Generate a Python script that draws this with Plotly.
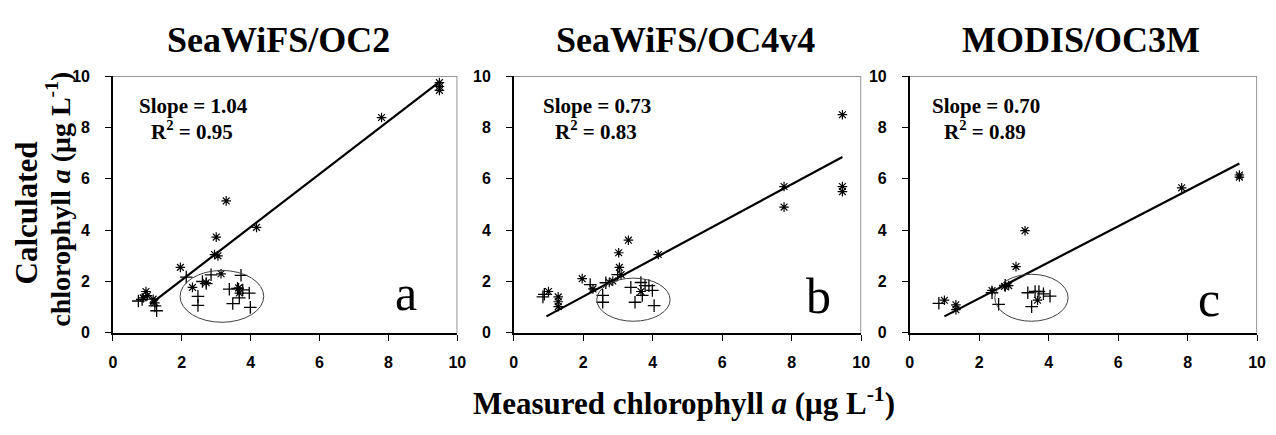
import plotly.graph_objects as go

W, H = 1276, 435

# ---------------- data ----------------
titles = ["SeaWiFS/OC2", "SeaWiFS/OC4v4", "MODIS/OC3M"]
slopes = ["1.04", "0.73", "0.70"]
r2s = ["0.95", "0.83", "0.89"]
letters = ["a", "b", "c"]
tick_vals = [0, 2, 4, 6, 8, 10]

p1_star_x = [0.88, 0.96, 1.0, 1.17, 1.22, 1.96, 2.31, 2.71, 2.95, 3.05, 3.0, 3.14, 3.29, 3.67, 3.65, 4.17, 7.8, 9.48, 9.48, 9.48]
p1_star_y = [1.36, 1.61, 1.45, 1.31, 1.17, 2.55, 1.77, 1.95, 3.05, 3.0, 3.73, 2.3, 5.14, 1.55, 1.75, 4.11, 8.39, 9.75, 9.6, 9.45]
p1_plus_x = [0.74, 0.85, 1.27, 1.22, 2.13, 2.71, 2.85, 2.47, 2.47, 3.38, 3.48, 3.62, 3.77, 3.96, 3.67, 3.72, 3.99, 2.6]
p1_plus_y = [1.24, 1.3, 0.86, 1.05, 2.17, 1.92, 2.26, 1.42, 1.07, 1.70, 1.14, 1.73, 1.67, 1.55, 1.36, 2.24, 0.99, 2.0]
p1_line_x = [1.08, 9.5]
p1_line_y = [1.11, 9.8]

p2_star_x = [1.0, 1.28, 1.28, 1.28, 1.97, 2.28, 2.75, 2.85, 3.02, 3.04, 3.09, 3.30, 3.66, 4.16, 7.78, 7.78, 9.46, 9.46, 9.46]
p2_star_y = [1.61, 1.40, 1.21, 1.02, 2.11, 1.71, 1.96, 2.02, 3.12, 2.55, 2.27, 3.61, 1.61, 3.05, 5.7, 4.9, 8.5, 5.7, 5.5]
p2_plus_x = [0.84, 0.88, 2.2, 2.56, 2.56, 2.99, 3.37, 3.66, 3.78, 3.89, 3.99, 3.49, 4.04, 3.7, 2.65]
p2_plus_y = [1.4, 1.5, 1.88, 1.46, 1.19, 2.27, 1.77, 1.96, 1.84, 1.84, 1.65, 1.19, 1.06, 1.46, 1.95]
p2_line_x = [0.94, 9.46]
p2_line_y = [0.64, 6.85]

p3_star_x = [1.0, 1.33, 1.33, 2.37, 2.73, 2.85, 3.06, 3.32, 3.68, 7.83, 9.49, 9.49]
p3_star_y = [1.27, 1.09, 0.9, 1.65, 1.81, 1.84, 2.58, 3.98, 1.27, 5.65, 6.07, 6.15]
p3_plus_x = [0.84, 2.37, 2.56, 3.4, 3.61, 3.72, 3.85, 4.04, 3.51, 2.75]
p3_plus_y = [1.15, 1.56, 1.11, 1.56, 1.61, 1.61, 1.52, 1.43, 1.02, 1.85]
p3_line_x = [1.0, 9.49]
p3_line_y = [0.64, 6.6]

# ellipse bounds (x0, x1, y0, y1) in data units
ellipses = [(1.95, 4.38, 0.41, 2.43), (2.39, 4.5, 0.45, 2.13), (2.45, 4.56, 0.45, 2.28)]

panels = [
    (p1_star_x, p1_star_y, p1_plus_x, p1_plus_y, p1_line_x, p1_line_y),
    (p2_star_x, p2_star_y, p2_plus_x, p2_plus_y, p2_line_x, p2_line_y),
    (p3_star_x, p3_star_y, p3_plus_x, p3_plus_y, p3_line_x, p3_line_y),
]

# ---------------- layout (pixels) ----------------
x_px = [(110, 458), (515, 866), (915, 1266)]
y_top, y_bot = 71, 338
ydom = [1 - y_bot / H, 1 - y_top / H]

SERIF = "Liberation Serif, Times New Roman, serif"
SANS = "Liberation Sans, Arial, sans-serif"
TICKFONT = dict(family=SANS, size=16, color="black", weight="bold")


def ann(text, px, py, size, angle=0, family=SERIF):
    return dict(text=text, xref="paper", yref="paper", x=px / W, y=1 - py / H,
                xanchor="center", yanchor="middle", showarrow=False, textangle=angle,
                font=dict(family=family, size=size, color="black"))


fig = go.Figure()
layout = dict(
    width=W, height=H,
    margin=dict(l=0, r=0, t=0, b=0),
    paper_bgcolor="white", plot_bgcolor="white",
    showlegend=False,
    shapes=[], annotations=[],
)

for i, (sx, sy, px, py, lx, ly) in enumerate(panels):
    n = "" if i == 0 else str(i + 1)
    xa, ya = "x" + n, "y" + n
    fig.add_trace(go.Scatter(x=lx, y=ly, mode="lines", xaxis=xa, yaxis=ya,
                             line=dict(color="black", width=2.2)))
    fig.add_trace(go.Scatter(x=sx, y=sy, mode="markers", xaxis=xa, yaxis=ya,
                             marker=dict(symbol="asterisk-open", size=8, color="black",
                                         line=dict(color="black", width=1.2))))
    fig.add_trace(go.Scatter(x=px, y=py, mode="markers", xaxis=xa, yaxis=ya,
                             marker=dict(symbol="cross-thin-open", size=9, color="black",
                                         line=dict(color="black", width=1.3))))
    x0, x1 = x_px[i]
    common = dict(range=[0, 10], tickvals=tick_vals, ticks="outside", ticklen=6,
                  tickwidth=1, tickcolor="black", showgrid=False, zeroline=False,
                  showline=True, linecolor="black", linewidth=1.5)
    layout["xaxis" + n] = dict(common, domain=[x0 / W, x1 / W], anchor=ya, ticklabelstandoff=8)
    layout["yaxis" + n] = dict(common, domain=ydom, anchor=xa, ticklabelstandoff=12)
    # top and right frame
    layout["shapes"].append(dict(type="line", xref=xa, yref=ya, x0=0, x1=10, y0=10, y1=10,
                                 line=dict(color="#707070", width=1.5)))
    layout["shapes"].append(dict(type="line", xref=xa, yref=ya, x0=10, x1=10, y0=0, y1=10,
                                 line=dict(color="#707070", width=1.5)))
    ex0, ex1, ey0, ey1 = ellipses[i]
    layout["shapes"].append(dict(type="circle", xref=xa, yref=ya, x0=ex0, x1=ex1, y0=ey0, y1=ey1,
                                 line=dict(color="#404040", width=1)))
    # title
    layout["annotations"].append(ann("<b>" + titles[i] + "</b>", [277, 689, 1088][i], 33, 36))
    # slope / R2
    sxp = [191, 599, 992][i]
    layout["annotations"].append(ann("<b>Slope = " + slopes[i] + "</b>", sxp, 102, 21))
    layout["annotations"].append(ann("<b>R<sup>2</sup> = " + r2s[i] + "</b>", sxp - 1, 127, 21))
    # panel letter
    lxp, lyp = [(406, 297), (823, 300), (1217, 303)][i]
    layout["annotations"].append(ann(letters[i], lxp, lyp, 50))

# axis titles
layout["annotations"].append(ann("<b>Measured chlorophyll <i>a</i> (μg L<sup>-1</sup>)</b>", 687, 410, 31))
layout["annotations"].append(ann("<b>Calculated</b>", 23, 213, 31, angle=-90))
layout["annotations"].append(ann("<b>chlorophyll <i>a</i> (μg L<sup>-1</sup>)</b>", 55, 199, 28, angle=-90))

fig.update_layout(**layout)
fig.update_xaxes(tickfont=TICKFONT)
fig.update_yaxes(tickfont=TICKFONT)
fig.write_html("out.html")
